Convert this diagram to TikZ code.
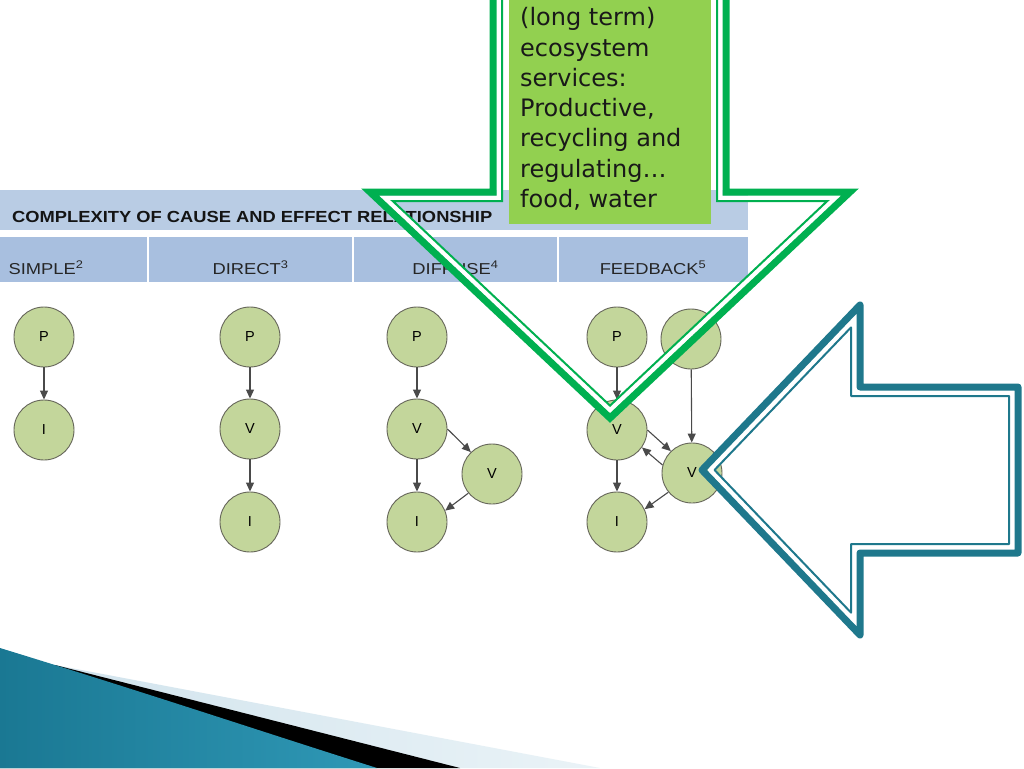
\documentclass[tikz,border=0pt]{standalone}
\usepackage{fontspec}
\usepackage{graphicx}
\usetikzlibrary{arrows.meta}
\newfontfamily\lsans{Liberation Sans}
\newfontfamily\dvsans{DejaVu Sans}
\definecolor{hdrblue}{HTML}{B9CCE4}
\definecolor{rowblue}{HTML}{A8BFDF}
\definecolor{hdrtext}{HTML}{141414}
\definecolor{rowtext}{HTML}{262626}
\definecolor{circfill}{HTML}{C3D69B}
\definecolor{circborder}{HTML}{66665A}
\definecolor{conngray}{HTML}{4A4A4A}
\definecolor{arrgreen}{HTML}{00B050}
\definecolor{boxgreen}{HTML}{92D050}
\definecolor{arrteal}{HTML}{1F788C}
\definecolor{tealA}{HTML}{1A7893}
\definecolor{tealB}{HTML}{4AAFCC}
\definecolor{tealC}{HTML}{2F98B6}
\definecolor{paleA}{HTML}{CFE2EC}
\definecolor{paleB}{HTML}{EAF3F7}
\begin{document}
\begin{tikzpicture}[x=1pt,y=-1pt,
  pnode/.style={circle, draw=circborder, line width=0.9pt, fill=circfill, minimum size=60pt, inner sep=0pt,
    text=black, font=\lsans\fontsize{14.5}{14.5}\selectfont},
  conn/.style={draw=conngray, line width=1.1pt, -{Triangle[length=9pt,width=8pt]}},
  collabel/.style={anchor=base, inner sep=0pt, text=rowtext, font=\lsans\fontsize{15.8}{18}\selectfont},
  boxtext/.style={anchor=base west, inner sep=0pt, text=black!90, font=\dvsans\fontsize{24}{30}\selectfont},
  gapline/.style={white, line width=5pt},
  thickgreen/.style={arrgreen, line width=7pt},
  thingreen/.style={arrgreen, line width=2pt},
  thickteal/.style={arrteal, line width=7pt, line join=round},
  thinteal/.style={arrteal, line width=2pt, line join=round}]
\useasboundingbox (0,0) rectangle (1024,768);
\fill[white] (0,0) rectangle (1024,768);

% table bands
\fill[hdrblue] (0,190) rectangle (748,230);
\fill[rowblue] (0,237) rectangle (748,282);
\draw[white, line width=2pt] (148,237) -- (148,282) (353,237) -- (353,282) (558,237) -- (558,282);
\node[anchor=base west, inner sep=0pt, text=hdrtext] (hdr) at (12,222)
  {\resizebox{480pt}{11.2pt}{\lsans\bfseries COMPLEXITY OF CAUSE AND EFFECT RELATIONSHIP}};
\node[collabel] (cSimple) at (46,274) {\scalebox{1.16}[1]{SIMPLE\textsuperscript{2}}};
\node[collabel] (cDirect) at (250.5,274) {\scalebox{1.16}[1]{DIRECT\textsuperscript{3}}};
\node[collabel] (cDiffuse) at (455.5,274) {\scalebox{1.16}[1]{DIFFUSE\textsuperscript{4}}};
\node[collabel] (cFeedback) at (653,274) {\scalebox{1.16}[1]{FEEDBACK\textsuperscript{5}}};

% simple
\node[pnode] (sP) at (44,337) {P};
\node[pnode] (sI) at (44,430) {I};
\draw[conn] (sP) -- (sI);
% direct
\node[pnode] (dP) at (250,337) {P};
\node[pnode] (dV) at (250,429) {V};
\node[pnode] (dI) at (250,522) {I};
\draw[conn] (dP) -- (dV);
\draw[conn] (dV) -- (dI);
% diffuse
\node[pnode] (fP) at (417,337) {P};
\node[pnode] (fV) at (417,429) {V};
\node[pnode] (fV2) at (492,474) {V};
\node[pnode] (fI) at (417,522) {I};
\draw[conn] (fP) -- (fV);
\draw[conn] (fV) -- (fI);
\draw[conn] (fV.0) -- (fV2.134);
\draw[conn] (fV2.219) -- (fI.22);
% feedback
\node[pnode] (bP) at (617,337) {P};
\node[pnode] (bP2) at (691,339) {P};
\node[pnode] (bV) at (617,430) {V};
\node[pnode] (bV2) at (692,473) {V};
\node[pnode] (bI) at (617,522) {I};
\draw[conn] (bP) -- (bV);
\draw[conn] (bV) -- (bI);
\draw[conn] (bP2) -- (bV2);
\draw[conn] (bV.0) -- (bV2.134);
\draw[conn] (bV2.165) -- (bV.-35);
\draw[conn] (bV2.219) -- (bI.25);

% green down arrow (outline only)
\draw[gapline] (499,-20) -- (499,198) -- (385.1,198) -- (610,409.8) -- (834.9,198) -- (720,198) -- (720,-20);
\draw[thickgreen] (493,-20) -- (493,192) -- (370,192) -- (610,418) -- (850,192) -- (726,192) -- (726,-20);
\draw[thingreen] (502,-20) -- (502,201) -- (392.7,201) -- (610,405.6) -- (827.3,201) -- (717,201) -- (717,-20);

% green text box
\node[fill=boxgreen, minimum width=202pt, minimum height=240pt, inner sep=0pt, anchor=south west] (box) at (509,224) {};
\node[boxtext] (t1) at (520,26) {(long term)};
\node[boxtext] (t2) at (520,56.2) {ecosystem};
\node[boxtext] (t3) at (520,86.4) {services:};
\node[boxtext] (t4) at (520,116.6) {Productive,};
\node[boxtext] (t5) at (520,146.8) {recycling and};
\node[boxtext] (t6) at (520,177) {regulating…};
\node[boxtext] (t7) at (520,207.2) {food, water};

% teal left arrow (outline only)
\draw[gapline, line join=round] (710.3,470) -- (854,319.9) -- (854,393) -- (1012,393) -- (1012,547) -- (854,547) -- (854,620.1) -- cycle;
\draw[thickteal] (702,470) -- (860,305) -- (860,387) -- (1018,387) -- (1018,553) -- (860,553) -- (860,635) -- cycle;
\draw[thinteal] (714.5,470) -- (851,327.4) -- (851,396) -- (1009,396) -- (1009,544) -- (851,544) -- (851,612.6) -- cycle;

% bottom-left swoosh
\shade[left color=paleA, right color=paleB] (55,665) -- (600,768) -- (0,768) -- cycle;
\fill[black] (55,665) -- (460,768) -- (0,768) -- cycle;
\shade[left color=tealA, middle color=tealB, right color=tealC]
  (0,648) .. controls (150,694) and (260,731) .. (377,768) -- (0,768) -- cycle;
\end{tikzpicture}
\end{document}
